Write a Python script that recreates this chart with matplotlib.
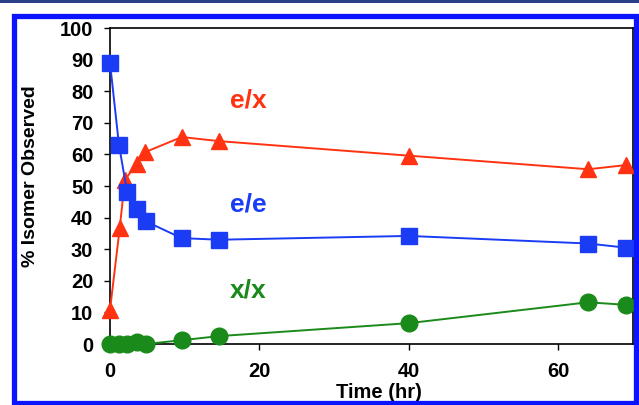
import matplotlib.pyplot as plt
from matplotlib.patches import Rectangle

plt.rcParams['font.family'] = ['Liberation Sans', 'DejaVu Sans']
plt.rcParams['font.weight'] = 'bold'

# e/e isomer (blue squares)
t_ee = [0, 1.2, 2.3, 3.6, 4.8, 9.6, 14.6, 40, 64, 69]
ee = [89, 63, 48, 42.6, 38.8, 33.5, 33, 34.2, 31.8, 30.5]
# e/x isomer (red triangles)
t_ex = [0, 1.3, 2.0, 3.6, 4.7, 9.6, 14.6, 40, 64, 69]
ex = [10.8, 36.7, 52, 57, 60.7, 65.5, 64.2, 59.6, 55.3, 56.6]
# x/x isomer (green circles)
t_xx = [0, 1.2, 2.3, 3.6, 4.8, 9.6, 14.6, 40, 64, 69]
xx = [0, 0, 0, 0.5, 0, 1.2, 2.5, 6.6, 13.2, 12.4]

blue = '#1a3cf5'
red = '#ff3311'
green = '#1a8a1a'

fig = plt.figure(figsize=(6.39, 4.05), dpi=100)
W, H = 639, 405

# page decoration: dark rule on top and blue frame
fig.patches.append(Rectangle((0, 1 - 2.5 / H), 1, 2.5 / H, transform=fig.transFigure,
                             facecolor='#2e3f8a', edgecolor='none'))
fig.patches.append(Rectangle((13.5 / W, 1 - 403 / H), (636 - 13.5) / W, (403 - 16) / H,
                             transform=fig.transFigure, facecolor='none',
                             edgecolor='#0a14ff', linewidth=3.8, zorder=5))

ax = fig.add_axes([110 / W, 1 - 344 / H, (633 - 110) / W, (344 - 28) / H])
ax.plot(t_ex, ex, '-^', color=red, lw=1.4, ms=12, clip_on=False, zorder=3)
ax.plot(t_ee, ee, '-s', color=blue, lw=1.4, ms=11.5, clip_on=False, zorder=3)
ax.plot(t_xx, xx, '-o', color=green, lw=1.4, ms=12, clip_on=False, zorder=3)

ax.set_xlim(0, 70)
ax.set_ylim(0, 100)
ax.set_xticks([0, 20, 40, 60])
ax.set_yticks(range(0, 101, 10))
ax.tick_params(direction='out', labelsize=14.5, length=4, width=1)
ax.tick_params(axis='y', pad=8)
ax.tick_params(axis='x', pad=9)
for lab in ax.get_xticklabels() + ax.get_yticklabels():
    lab.set_fontweight('bold')
for s in ax.spines.values():
    s.set_linewidth(1.2)

ax.set_ylabel('% Isomer Observed', fontsize=14, fontweight='bold')
ax.yaxis.set_label_coords(-0.135, 0.532)
ax.set_xlabel('Time (hr)', fontsize=14.5, fontweight='bold')
ax.xaxis.set_label_coords(0.514, -0.122)

ax.text(18.5, 77, 'e/x', color=red, fontsize=19, fontweight='bold', ha='center', va='center')
ax.text(18.5, 44, 'e/e', color=blue, fontsize=19, fontweight='bold', ha='center', va='center')
ax.text(18.5, 17, 'x/x', color=green, fontsize=19, fontweight='bold', ha='center', va='center')

fig.savefig('out.png', dpi=100)
